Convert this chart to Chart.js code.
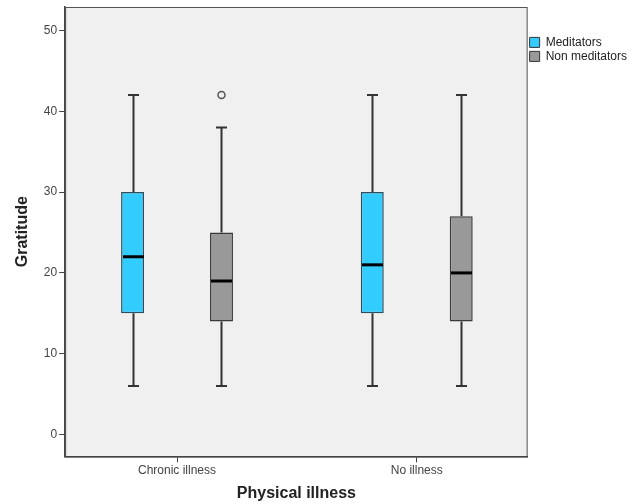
<!DOCTYPE html>
<html>
<head>
<meta charset="utf-8">
<script src="https://cdn.jsdelivr.net/npm/chart.js@4.4.1/dist/chart.umd.min.js"></script>
<style>
  html, body { margin: 0; padding: 0; background: #ffffff; }
  #wrap { width: 637px; height: 504px; }
</style>
</head>
<body>
<div id="wrap"><canvas id="c" width="637" height="504"></canvas></div>
<script>
// Gratitude scores by physical illness group, meditators vs non meditators
const categories = ['Chronic illness', 'No illness'];
const seriesNames = ['Meditators', 'Non meditators'];

const medMin    = [6, 6];
const medQ1     = [15, 15];
const medMedian = [22, 21];
const medQ3     = [30, 30];
const medMax    = [42, 42];

const nonMin    = [6, 6];
const nonQ1     = [14, 14];
const nonMedian = [19, 20];
const nonQ3     = [25, 27];
const nonMax    = [38, 42];
const nonOutliers = [[42], []];
const medOutliers = [[], []];

const yTicks = [0, 10, 20, 30, 40, 50];

const boxStats = [
  { min: medMin, q1: medQ1, median: medMedian, q3: medQ3, max: medMax, out: medOutliers },
  { min: nonMin, q1: nonQ1, median: nonMedian, q3: nonQ3, max: nonMax, out: nonOutliers }
];

const FONT = 'Liberation Sans, Arial, sans-serif';

// shaded plot area with a thin frame
const plotFrame = {
  id: 'plotFrame',
  beforeDraw(chart) {
    const { ctx, chartArea: a } = chart;
    ctx.save();
    ctx.fillStyle = '#f0f0f0';
    ctx.fillRect(a.left, a.top, a.right - a.left, a.bottom - a.top);
    ctx.strokeStyle = '#555555';
    ctx.lineWidth = 1;
    ctx.strokeRect(a.left + 0.5, a.top + 0.5, a.right - a.left - 1, a.bottom - a.top);
    ctx.restore();
  }
};

// whiskers, caps, medians and outliers for each box
const boxParts = {
  id: 'boxParts',
  afterDatasetsDraw(chart) {
    const { ctx } = chart;
    const y = chart.scales.y;
    ctx.save();
    chart.data.datasets.forEach((ds, di) => {
      const meta = chart.getDatasetMeta(di);
      const st = boxStats[di];
      meta.data.forEach((bar, i) => {
        const cx = Math.round(bar.x) + 0.5;
        const w = bar.width;
        const cap = 11;
        const yMin = y.getPixelForValue(st.min[i]);
        const yQ1 = y.getPixelForValue(st.q1[i]);
        const yQ3 = y.getPixelForValue(st.q3[i]);
        const yMax = y.getPixelForValue(st.max[i]);
        const yMed = y.getPixelForValue(st.median[i]);
        ctx.strokeStyle = '#333333';
        ctx.lineWidth = 2;
        ctx.beginPath();
        ctx.moveTo(cx, yQ3); ctx.lineTo(cx, yMax);
        ctx.moveTo(cx, yQ1); ctx.lineTo(cx, yMin);
        ctx.moveTo(cx - cap / 2, yMax); ctx.lineTo(cx + cap / 2, yMax);
        ctx.moveTo(cx - cap / 2, yMin); ctx.lineTo(cx + cap / 2, yMin);
        ctx.stroke();
        ctx.strokeStyle = '#000000';
        ctx.lineWidth = 3;
        ctx.beginPath();
        ctx.moveTo(cx - w / 2 + 1, yMed); ctx.lineTo(cx + w / 2 - 1, yMed);
        ctx.stroke();
        ctx.strokeStyle = '#555555';
        ctx.lineWidth = 1.5;
        st.out[i].forEach(v => {
          ctx.beginPath();
          ctx.arc(cx, y.getPixelForValue(v), 3.5, 0, Math.PI * 2);
          ctx.stroke();
        });
      });
    });
    ctx.restore();
  }
};

new Chart(document.getElementById('c'), {
  type: 'bar',
  data: {
    datasets: [
      {
        label: seriesNames[0],
        data: medQ1.map((v, i) => ({ x: i, y: [v, medQ3[i]] })),
        backgroundColor: '#33ccff',
        borderColor: '#2a4f60',
        borderWidth: 1.5,
        borderSkipped: false
      },
      {
        label: seriesNames[1],
        data: nonQ1.map((v, i) => ({ x: i, y: [v, nonQ3[i]] })),
        backgroundColor: '#999999',
        borderColor: '#3a3a3a',
        borderWidth: 1.5,
        borderSkipped: false
      }
    ]
  },
  options: {
    responsive: false,
    animation: false,
    layout: { padding: { left: 12.6, right: 0, top: 7, bottom: 1 } },
    datasets: { bar: { categoryPercentage: 0.742, barPercentage: 0.258 } },
    scales: {
      x: {
        type: 'linear',
        offset: false,
        min: -0.4667,
        max: 1.4625,
        afterBuildTicks(scale) { scale.ticks = categories.map((c, i) => ({ value: i })); },
        grid: { offset: false, drawOnChartArea: false, drawTicks: true, tickLength: 6, tickColor: '#444444' },
        border: { display: true, color: '#444444', width: 1.5 },
        ticks: {
          color: '#444444',
          font: { family: FONT, size: 12 },
          padding: 1,
          callback: (v) => categories[v]
        },
        title: { display: true, text: 'Physical illness', color: '#222222', font: { family: FONT, size: 16, weight: 'bold' }, padding: { top: 5, bottom: 0 } }
      },
      y: {
        min: -2.7,
        max: 52.9,
        afterBuildTicks(scale) { scale.ticks = yTicks.map(v => ({ value: v })); },
        // the top tick sits well below the frame, so no extra room is needed above it
        afterFit(scale) { scale.paddingTop = 0; },
        grid: { drawOnChartArea: false, drawTicks: true, tickLength: 6, tickColor: '#444444' },
        border: { display: true, color: '#444444', width: 1.5 },
        ticks: { color: '#444444', font: { family: FONT, size: 12 }, padding: 2 },
        title: { display: true, text: 'Gratitude', color: '#222222', font: { family: FONT, size: 16, weight: 'bold' }, padding: { top: 0, bottom: 10 } }
      }
    },
    plugins: {
      tooltip: { enabled: false },
      legend: {
        position: 'right',
        align: 'start',
        title: { display: true, text: '', font: { family: FONT, size: 12 }, padding: { top: 13, bottom: 0 } },
        labels: {
          color: '#222222',
          font: { family: FONT, size: 12 },
          boxWidth: 10,
          boxHeight: 10,
          padding: 2,
          generateLabels(chart) {
            return chart.data.datasets.map((ds, i) => ({
              text: ds.label,
              fillStyle: ds.backgroundColor,
              strokeStyle: '#333333',
              lineWidth: 1,
              fontColor: '#222222',
              datasetIndex: i
            }));
          }
        }
      }
    }
  },
  plugins: [plotFrame, boxParts]
});
</script>
</body>
</html>
